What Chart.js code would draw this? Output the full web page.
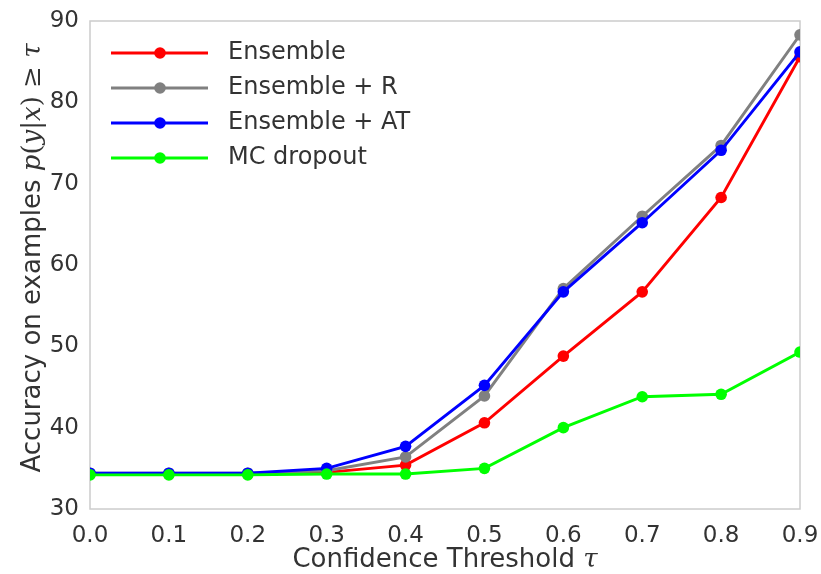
<!DOCTYPE html>
<html>
<head>
<meta charset="utf-8">
<script src="https://cdn.jsdelivr.net/npm/chart.js@4/dist/chart.umd.min.js"></script>
<style>
  html, body { margin: 0; padding: 0; background: #fff; }
  #wrap { width: 821px; height: 574px; }
</style>
</head>
<body>
<div id="wrap"><canvas id="c" width="821" height="574"></canvas></div>
<script>
const thresholds = [0.0, 0.1, 0.2, 0.3, 0.4, 0.5, 0.6, 0.7, 0.8, 0.9];
const ensemble   = [34.3, 34.3, 34.3, 34.5, 35.4, 40.6, 48.8, 56.7, 68.3, 85.6];
const ensembleR  = [34.4, 34.4, 34.4, 34.7, 36.4, 43.9, 57.1, 66.0, 74.7, 88.3];
const ensembleAT = [34.4, 34.4, 34.4, 35.0, 37.7, 45.2, 56.7, 65.2, 74.1, 86.2];
const mcDropout  = [34.2, 34.2, 34.2, 34.3, 34.3, 35.0, 40.0, 43.8, 44.1, 49.3];
const seriesNames = ['Ensemble', 'Ensemble + R', 'Ensemble + AT', 'MC dropout'];
const seriesColors = ['#ff0000', '#808080', '#0000ff', '#00ff00'];
const xTicks = [0.0, 0.1, 0.2, 0.3, 0.4, 0.5, 0.6, 0.7, 0.8, 0.9];
const yTicks = [30, 40, 50, 60, 70, 80, 90];

const allSeries = [ensemble, ensembleR, ensembleAT, mcDropout];
const datasets = allSeries.map((vals, i) => ({
  label: seriesNames[i],
  data: thresholds.map((t, j) => ({ x: t, y: vals[j] })),
  borderColor: seriesColors[i],
  backgroundColor: seriesColors[i],
  pointBackgroundColor: seriesColors[i],
  pointBorderWidth: 0,
  pointRadius: 5.8,
  borderWidth: 2.9,
  tension: 0,
  clip: 0,
  order: allSeries.length - i
}));

const TXT = '#333333';
const SANS = "'DejaVu Sans', sans-serif";
const SERIF = "'DejaVu Serif', serif";

function drawRuns(ctx, runs, x, y) {
  let cx = x;
  runs.forEach(r => {
    ctx.font = r.font;
    ctx.fillText(r.t, cx, y);
    cx += ctx.measureText(r.t).width;
  });
  return cx - x;
}
function runsWidth(ctx, runs) {
  let w = 0;
  runs.forEach(r => { ctx.font = r.font; w += ctx.measureText(r.t).width; });
  return w;
}

const decorPlugin = {
  id: 'decor',
  beforeDatasetsDraw(chart) {
    const { ctx, chartArea: a } = chart;
    ctx.save();
    ctx.strokeStyle = '#cccccc';
    ctx.lineWidth = 1.5;
    ctx.strokeRect(a.left, a.top, a.right - a.left, a.bottom - a.top);
    ctx.restore();
  },
  afterDraw(chart) {
    const { ctx, chartArea: a } = chart;
    ctx.save();
    ctx.fillStyle = TXT;
    ctx.textBaseline = 'alphabetic';
    const fs = 26;
    const up = `${fs}px ${SERIF}`;
    const it = `italic ${fs}px ${SERIF}`;
    // x title
    const xr = [
      { t: 'Confidence Threshold ', font: `${fs}px ${SANS}` },
      { t: 'τ', font: it }
    ];
    const xw = runsWidth(ctx, xr);
    drawRuns(ctx, xr, (a.left + a.right) / 2 - xw / 2, 567);
    // y title
    const yr = [
      { t: 'Accuracy on examples ', font: `${fs}px ${SANS}` },
      { t: 'p', font: it }, { t: '(', font: up }, { t: 'y', font: it },
      { t: '|', font: up }, { t: 'x', font: it }, { t: ')', font: up },
      { t: ' ≥ ', font: up }, { t: 'τ', font: it }
    ];
    const yw = runsWidth(ctx, yr);
    ctx.translate(40, (a.top + a.bottom) / 2 - 7);
    ctx.rotate(-Math.PI / 2);
    drawRuns(ctx, yr, -yw / 2, 0);
    ctx.restore();

    // legend inside plot
    ctx.save();
    const rows = [53, 88, 123, 158];
    chart.data.datasets.forEach((ds, i) => {
      const y = rows[i];
      ctx.strokeStyle = ds.borderColor;
      ctx.lineWidth = 2.9;
      ctx.beginPath();
      ctx.moveTo(111, y);
      ctx.lineTo(208, y);
      ctx.stroke();
      ctx.fillStyle = ds.borderColor;
      ctx.beginPath();
      ctx.arc(160, y, 5.8, 0, Math.PI * 2);
      ctx.fill();
      ctx.fillStyle = TXT;
      ctx.font = `24px ${SANS}`;
      ctx.textBaseline = 'middle';
      ctx.fillText(ds.label, 228, y);
    });
    ctx.restore();
  }
};

new Chart(document.getElementById('c'), {
  type: 'line',
  data: { datasets },
  plugins: [decorPlugin],
  options: {
    responsive: false,
    animation: false,
    devicePixelRatio: 1,
    layout: { padding: { top: 21, right: 21, left: 0, bottom: 0 } },
    plugins: { legend: { display: false }, tooltip: { enabled: false } },
    scales: {
      x: {
        type: 'linear',
        min: 0, max: 0.9,
        afterBuildTicks: (s) => { s.ticks = xTicks.map(v => ({ value: v })); },
        afterFit: (s) => { s.height = 65; s.paddingLeft = 0; s.paddingRight = 0; },
        grid: { display: false, drawTicks: false },
        border: { display: false },
        ticks: {
          color: TXT,
          font: { family: SANS, size: 23 },
          padding: 13,
          maxRotation: 0,
          autoSkip: false,
          callback: (v) => Number(v).toFixed(1)
        }
      },
      y: {
        type: 'linear',
        min: 30, max: 90,
        afterBuildTicks: (s) => { s.ticks = yTicks.map(v => ({ value: v })); },
        afterFit: (s) => { s.width = 90; s.paddingTop = 0; s.paddingBottom = 0; },
        grid: { display: false, drawTicks: false },
        border: { display: false },
        ticks: {
          color: TXT,
          font: { family: SANS, size: 23 },
          padding: 11,
          callback: (v) => String(v)
        }
      }
    }
  }
});
</script>
</body>
</html>
